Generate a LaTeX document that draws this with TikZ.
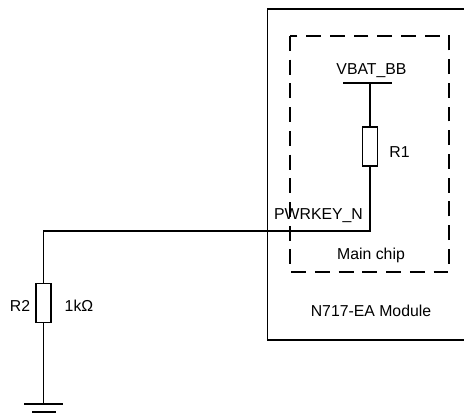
\documentclass[tikz,border=0pt]{standalone}
\usepackage{fontspec}
\setmainfont{Liberation Sans}

\tikzset{
	wire/.style={line width=1.1pt},
	resbox/.style={draw,line width=1.1pt,minimum width=0.3cm,minimum height=0.78cm,inner sep=0pt},
	lbl/.style={inner sep=0pt,font=\fontsize{9}{11}\selectfont}
}

\begin{document}
\begin{tikzpicture}[x=0.02cm,y=-0.02cm]
	\useasboundingbox (0,0) rectangle (464,419);
	
	\draw[wire] (464,9) -- (267.5,9) -- (267.5,340) -- (464,340);
	\draw[wire,dash pattern=on 8.5pt off 5pt] (290,36) rectangle (449,272);
	
	\node[lbl] (VBAT) at (371.5,71) {VBAT\_BB};
	\node[lbl] (KEY) at (318.5,216) {PWRKEY\_N};
	\node[lbl] (CHIP) at (371,255) {Main chip};
	\node[lbl] (MOD) at (371,311) {N717-EA Module};
	
	\node[resbox] (R1) at (370,146.5) {};
	\node[lbl] (R1T) at (399.5,152) {R1};
	\node[resbox] (R2) at (43.5,303) {};
	\node[lbl] (R2T) at (20,306) {R2};
	\node[lbl] (R2V) at (79,306) {1k\symbol{"03A9}};
	
	\coordinate (A) at (343,83);
	\coordinate (B) at (392,83);
	\coordinate (C) at (370,83);
	\coordinate (D) at (370,231);
	\coordinate (E) at (43.5,231);
	\coordinate (F) at (43.5,404);
	\coordinate (G) at (24,404);
	\coordinate (H) at (63,404);
	\coordinate (I) at (32,412);
	\coordinate (J) at (55.5,412);
	\coordinate (K) at (40,419.5);
	\coordinate (L) at (47,419.5);
	
	\draw[wire] (A) -- (B);
	\draw[wire] (C) -- (R1);
	\draw[wire] (R1) -- (D) -- (E) -- (R2);
	\draw[wire] (R2) -- (F);
	\draw[wire] (G) -- (H);
	\draw[wire] (I) -- (J);
	\draw[wire] (K) -- (L);
\end{tikzpicture}
\end{document}
